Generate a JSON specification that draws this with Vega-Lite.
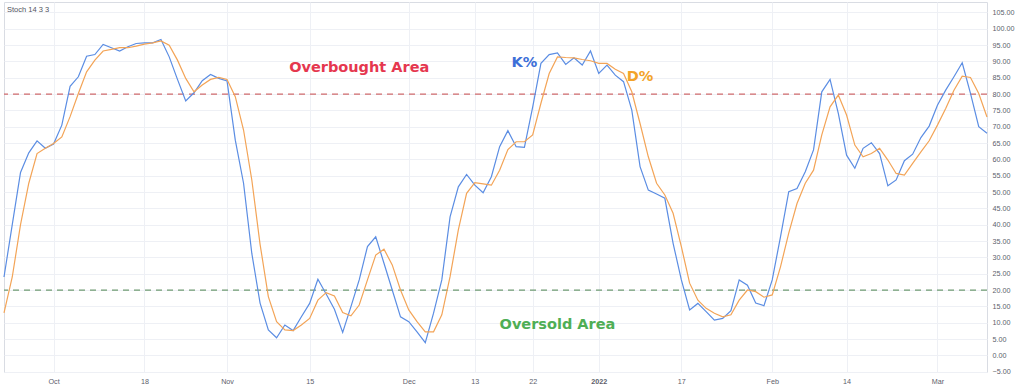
{
  "$schema": "https://vega.github.io/schema/vega-lite/v6.json",
  "width": 983,
  "height": 370,
  "autosize": {"type": "none"},
  "padding": {"left": 4, "top": 2, "right": 37, "bottom": 17},
  "background": "white",
  "config": {
    "view": {"stroke": "#d9dce3", "strokeWidth": 1},
    "font": "Liberation Sans",
    "axis": {"labelOverlap": false, "labelFlush": false, "labelBound": false, "ticks": false, "domain": false, "grid": true, "gridColor": "#eef0f5", "labelFontSize": 7.2, "labelColor": "#5d606b", "labelPadding": 5, "title": null}
  },
  "datasets": {
    "stoch": [
      {"date": "2021-09-23", "K": 24, "D": 13},
      {"date": "2021-09-24", "K": 40, "D": 24},
      {"date": "2021-09-27", "K": 56, "D": 40},
      {"date": "2021-09-28", "K": 62, "D": 52.7},
      {"date": "2021-09-29", "K": 65.7, "D": 61.8},
      {"date": "2021-09-30", "K": 63.4, "D": 63.4},
      {"date": "2021-10-01", "K": 64.7, "D": 64.9},
      {"date": "2021-10-04", "K": 70.5, "D": 66.9},
      {"date": "2021-10-05", "K": 82.4, "D": 73.1},
      {"date": "2021-10-06", "K": 85.3, "D": 80.2},
      {"date": "2021-10-07", "K": 91.6, "D": 86.8},
      {"date": "2021-10-08", "K": 92.1, "D": 90.4},
      {"date": "2021-10-11", "K": 95.2, "D": 93.2},
      {"date": "2021-10-12", "K": 94.2, "D": 93.7},
      {"date": "2021-10-13", "K": 93.2, "D": 94.2},
      {"date": "2021-10-14", "K": 94.5, "D": 94.2},
      {"date": "2021-10-15", "K": 95.5, "D": 94.7},
      {"date": "2021-10-18", "K": 95.7, "D": 95.3},
      {"date": "2021-10-19", "K": 95.7, "D": 95.7},
      {"date": "2021-10-20", "K": 96.7, "D": 96.3},
      {"date": "2021-10-21", "K": 91.4, "D": 95.0},
      {"date": "2021-10-22", "K": 84.5, "D": 90.4},
      {"date": "2021-10-25", "K": 77.9, "D": 84.8},
      {"date": "2021-10-26", "K": 80.4, "D": 80.7},
      {"date": "2021-10-27", "K": 84.1, "D": 82.8},
      {"date": "2021-10-28", "K": 86.0, "D": 84.5},
      {"date": "2021-10-29", "K": 84.8, "D": 85.1},
      {"date": "2021-11-01", "K": 84.0, "D": 84.5},
      {"date": "2021-11-02", "K": 65.9, "D": 79.2},
      {"date": "2021-11-03", "K": 52.7, "D": 69.0},
      {"date": "2021-11-04", "K": 31.2, "D": 53.7},
      {"date": "2021-11-05", "K": 16.0, "D": 34},
      {"date": "2021-11-08", "K": 7.8, "D": 18.0},
      {"date": "2021-11-09", "K": 5.4, "D": 10.3},
      {"date": "2021-11-10", "K": 9.3, "D": 7.8},
      {"date": "2021-11-11", "K": 7.6, "D": 7.6},
      {"date": "2021-11-12", "K": 11.8, "D": 9.3},
      {"date": "2021-11-15", "K": 15.9, "D": 11.3},
      {"date": "2021-11-16", "K": 23.3, "D": 16.9},
      {"date": "2021-11-17", "K": 18.8, "D": 19.2},
      {"date": "2021-11-18", "K": 14.1, "D": 18.2},
      {"date": "2021-11-19", "K": 7.0, "D": 13.1},
      {"date": "2021-11-22", "K": 14.9, "D": 12.1},
      {"date": "2021-11-23", "K": 23.1, "D": 15.4},
      {"date": "2021-11-24", "K": 33.3, "D": 23.1},
      {"date": "2021-11-25", "K": 36.3, "D": 30.7},
      {"date": "2021-11-26", "K": 28.2, "D": 32.5},
      {"date": "2021-11-29", "K": 20.0, "D": 27.7},
      {"date": "2021-11-30", "K": 11.8, "D": 20.0},
      {"date": "2021-12-01", "K": 10.3, "D": 13.9},
      {"date": "2021-12-02", "K": 7.2, "D": 10.3},
      {"date": "2021-12-03", "K": 3.9, "D": 7.2},
      {"date": "2021-12-06", "K": 12.9, "D": 7.2},
      {"date": "2021-12-07", "K": 23.1, "D": 12.4},
      {"date": "2021-12-08", "K": 42.4, "D": 24.1},
      {"date": "2021-12-09", "K": 51.6, "D": 38.4},
      {"date": "2021-12-10", "K": 55.4, "D": 49.6},
      {"date": "2021-12-13", "K": 52.1, "D": 52.9},
      {"date": "2021-12-14", "K": 49.8, "D": 52.5},
      {"date": "2021-12-15", "K": 54.7, "D": 52.1},
      {"date": "2021-12-16", "K": 63.9, "D": 56.7},
      {"date": "2021-12-17", "K": 68.8, "D": 63.0},
      {"date": "2021-12-20", "K": 63.9, "D": 65.4},
      {"date": "2021-12-21", "K": 63.7, "D": 65.4},
      {"date": "2021-12-22", "K": 76, "D": 67.5},
      {"date": "2021-12-23", "K": 89.4, "D": 77.2},
      {"date": "2021-12-24", "K": 92.1, "D": 86.3},
      {"date": "2021-12-27", "K": 92.6, "D": 91.4},
      {"date": "2021-12-28", "K": 89.1, "D": 91.2},
      {"date": "2021-12-29", "K": 91.1, "D": 91.1},
      {"date": "2021-12-30", "K": 88.9, "D": 90.6},
      {"date": "2021-12-31", "K": 93.2, "D": 90.2},
      {"date": "2022-01-03", "K": 86.3, "D": 89.4},
      {"date": "2022-01-04", "K": 88.9, "D": 89.4},
      {"date": "2022-01-05", "K": 85.8, "D": 87.6},
      {"date": "2022-01-06", "K": 83.8, "D": 86.3},
      {"date": "2022-01-07", "K": 75.1, "D": 80.7},
      {"date": "2022-01-10", "K": 57.8, "D": 71.0},
      {"date": "2022-01-11", "K": 50.6, "D": 60.8},
      {"date": "2022-01-12", "K": 49.4, "D": 52.7},
      {"date": "2022-01-13", "K": 48.1, "D": 49.1},
      {"date": "2022-01-14", "K": 34.3, "D": 43.5},
      {"date": "2022-01-17", "K": 23.1, "D": 33.3},
      {"date": "2022-01-18", "K": 13.9, "D": 22.1},
      {"date": "2022-01-19", "K": 15.9, "D": 16.9},
      {"date": "2022-01-20", "K": 13.4, "D": 14.4},
      {"date": "2022-01-21", "K": 10.8, "D": 12.9},
      {"date": "2022-01-24", "K": 11.3, "D": 11.8},
      {"date": "2022-01-25", "K": 13.7, "D": 12.4},
      {"date": "2022-01-26", "K": 23.1, "D": 16.9},
      {"date": "2022-01-27", "K": 21.5, "D": 20.0},
      {"date": "2022-01-28", "K": 16.0, "D": 19.5},
      {"date": "2022-01-31", "K": 15.2, "D": 17.8},
      {"date": "2022-02-01", "K": 23.1, "D": 18.5},
      {"date": "2022-02-02", "K": 36.3, "D": 27.1},
      {"date": "2022-02-03", "K": 50.1, "D": 37.4},
      {"date": "2022-02-04", "K": 51.1, "D": 46.5},
      {"date": "2022-02-07", "K": 56.2, "D": 52.7},
      {"date": "2022-02-08", "K": 62.9, "D": 56.7},
      {"date": "2022-02-09", "K": 80.7, "D": 67.5},
      {"date": "2022-02-10", "K": 84.5, "D": 76.1},
      {"date": "2022-02-11", "K": 74.1, "D": 79.7},
      {"date": "2022-02-14", "K": 61.3, "D": 73.6},
      {"date": "2022-02-15", "K": 57.3, "D": 64.4},
      {"date": "2022-02-16", "K": 63.4, "D": 60.8},
      {"date": "2022-02-17", "K": 65.1, "D": 61.8},
      {"date": "2022-02-18", "K": 61.8, "D": 63.4},
      {"date": "2022-02-21", "K": 51.9, "D": 59.8},
      {"date": "2022-02-22", "K": 53.7, "D": 55.7},
      {"date": "2022-02-23", "K": 59.6, "D": 55.2},
      {"date": "2022-02-24", "K": 61.6, "D": 58.8},
      {"date": "2022-02-25", "K": 66.7, "D": 62.3},
      {"date": "2022-02-28", "K": 70.2, "D": 65.7},
      {"date": "2022-03-01", "K": 76.6, "D": 70.5},
      {"date": "2022-03-02", "K": 81.2, "D": 75.6},
      {"date": "2022-03-03", "K": 85.3, "D": 81.2},
      {"date": "2022-03-04", "K": 89.6, "D": 85.5},
      {"date": "2022-03-07", "K": 80.2, "D": 85.1},
      {"date": "2022-03-08", "K": 70.0, "D": 80.2},
      {"date": "2022-03-09", "K": 68, "D": 73}
    ]
  },
  "layer": [
    {
      "data": {"values": [{}]},
      "mark": {"type": "rule", "strokeDash": [6, 5], "color": "#d06a6c", "strokeWidth": 1.2},
      "encoding": {"y": {"datum": 80}}
    },
    {
      "data": {"values": [{}]},
      "mark": {"type": "rule", "strokeDash": [6, 5], "color": "#6f9a72", "strokeWidth": 1.2},
      "encoding": {"y": {"datum": 20}}
    },
    {
      "data": {"name": "stoch"},
      "mark": {"type": "line", "color": "#5b8de3", "strokeWidth": 1.2},
      "encoding": {
        "x": {"field": "date", "type": "ordinal", "scale": {"type": "point", "padding": 0},
          "axis": {"values": ["2021-10-01","2021-10-18","2021-11-01","2021-11-15","2021-12-01","2021-12-13","2021-12-22","2022-01-03","2022-01-17","2022-02-01","2022-02-14","2022-03-01"],
            "labelExpr": "datum.value == '2022-01-03' ? '2022' : (slice(datum.value, 8) == '01' ? (slice(datum.value, 5, 7) == '10' ? 'Oct' : slice(datum.value, 5, 7) == '11' ? 'Nov' : slice(datum.value, 5, 7) == '12' ? 'Dec' : slice(datum.value, 5, 7) == '02' ? 'Feb' : 'Mar') : slice(datum.value, 8))",
            "labelAngle": 0,
            "labelFontWeight": {"condition": {"test": "datum.value == '2022-01-03'", "value": "bold"}, "value": "normal"}}},
        "y": {"field": "K", "type": "quantitative", "scale": {"domain": [-5.1, 108.2], "nice": false, "zero": false},
          "axis": {"orient": "right", "tickCount": 40, "values": [-5,0,5,10,15,20,25,30,35,40,45,50,55,60,65,70,75,80,85,90,95,100,105], "format": ".2f"}}
      }
    },
    {
      "data": {"name": "stoch"},
      "mark": {"type": "line", "color": "#f3a457", "strokeWidth": 1.2},
      "encoding": {
        "x": {"field": "date", "type": "ordinal", "scale": {"type": "point", "padding": 0}},
        "y": {"field": "D", "type": "quantitative", "scale": {"domain": [-5.1, 108.2], "nice": false, "zero": false},
          "axis": {"orient": "right", "tickCount": 40, "values": [-5,0,5,10,15,20,25,30,35,40,45,50,55,60,65,70,75,80,85,90,95,100,105], "format": ".2f"}}
      }
    },
    {
      "data": {"values": [
        {"date": "2021-11-23", "v": 88.0, "txt": "Overbought Area", "grp": "ob"},
        {"date": "2021-12-27", "v": 9.3, "txt": "Oversold Area", "grp": "os"},
        {"date": "2021-12-21", "v": 89.6, "txt": "K%", "grp": "k"},
        {"date": "2022-01-10", "v": 85.3, "txt": "D%", "grp": "d"}
      ]},
      "mark": {"type": "text", "font": "DejaVu Sans", "fontWeight": "bold", "fontSize": 14.5},
      "encoding": {
        "x": {"field": "date", "type": "ordinal", "scale": {"type": "point", "padding": 0}},
        "y": {"field": "v", "type": "quantitative", "scale": {"domain": [-5.1, 108.2], "nice": false, "zero": false},
          "axis": {"orient": "right", "tickCount": 40, "values": [-5,0,5,10,15,20,25,30,35,40,45,50,55,60,65,70,75,80,85,90,95,100,105], "format": ".2f"}},
        "text": {"field": "txt"},
        "color": {"field": "grp", "type": "nominal", "legend": null,
          "scale": {"domain": ["ob", "os", "k", "d"], "range": ["#e5374f", "#4fae55", "#3c6fd8", "#f3a329"]}}
      }
    },
    {
      "data": {"values": [{"date": "2021-09-23", "v": 105.9, "txt": "Stoch 14 3 3"}]},
      "mark": {"type": "text", "align": "left", "dx": 3, "fontSize": 7.5, "color": "#50535e"},
      "encoding": {
        "x": {"field": "date", "type": "ordinal", "scale": {"type": "point", "padding": 0}},
        "y": {"field": "v", "type": "quantitative", "scale": {"domain": [-5.1, 108.2], "nice": false, "zero": false},
          "axis": {"orient": "right", "tickCount": 40, "values": [-5,0,5,10,15,20,25,30,35,40,45,50,55,60,65,70,75,80,85,90,95,100,105], "format": ".2f"}},
        "text": {"field": "txt"}
      }
    }
  ]
}
